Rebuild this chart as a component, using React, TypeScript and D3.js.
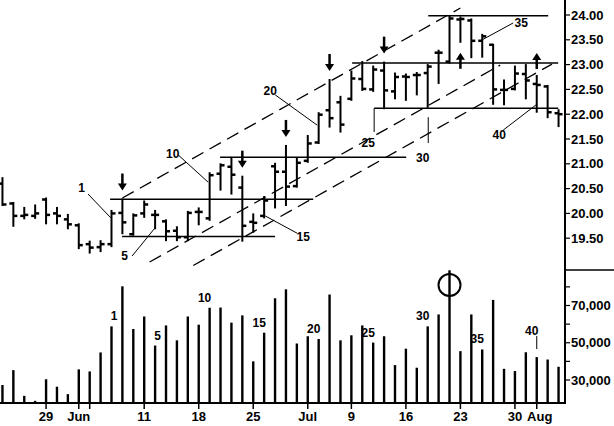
import React from 'react';
import * as d3 from 'd3';

// trading days, 22 May - 3 Aug 2001
const dates = [
  '2001-05-22', '2001-05-23', '2001-05-24', '2001-05-25', '2001-05-29', '2001-05-30', '2001-05-31', '2001-06-01',
  '2001-06-04', '2001-06-05', '2001-06-06', '2001-06-07', '2001-06-08', '2001-06-11', '2001-06-12', '2001-06-13',
  '2001-06-14', '2001-06-15', '2001-06-18', '2001-06-19', '2001-06-20', '2001-06-21', '2001-06-22', '2001-06-25',
  '2001-06-26', '2001-06-27', '2001-06-28', '2001-06-29', '2001-07-02', '2001-07-03', '2001-07-05', '2001-07-06',
  '2001-07-09', '2001-07-10', '2001-07-11', '2001-07-12', '2001-07-13', '2001-07-16', '2001-07-17', '2001-07-18',
  '2001-07-19', '2001-07-20', '2001-07-23', '2001-07-24', '2001-07-25', '2001-07-26', '2001-07-27', '2001-07-30',
  '2001-07-31', '2001-08-01', '2001-08-02', '2001-08-03',
];

const opens = [
  20.6, 20.2, 19.95, 19.95, 20.28, 20.0, 19.88, 19.76, 19.38, 19.32, 19.38, 20.01, 19.58, 20.0, 19.97, 19.84,
  19.65, 19.52, 20.03, 19.9, 20.8, 20.94, 20.52, 19.83, 19.95, 20.95, 20.84, 20.55, 21.06, 21.43, 22.08, 22.24,
  22.31, 22.71, 22.5, 22.88, 22.46, 22.76, 22.79, 22.83, 23.24, 23.06, 23.91, 23.89, 23.48, 23.4, 22.49, 22.51,
  22.81, 22.61, 22.56, 22.02,
];
const highs = [
  20.71, 20.21, 20.11, 20.16, 20.3, 20.11, 19.97, 19.78, 19.43, 19.44, 20.05, 20.28, 19.98, 20.24, 20.05, 19.86,
  19.72, 20.03, 20.1, 20.81, 20.99, 21.12, 20.74, 19.98, 20.33, 21.0, 21.36, 21.11, 21.56, 22.02, 22.69, 22.35,
  22.86, 23.05, 22.96, 23.04, 22.82, 22.8, 22.83, 22.99, 23.28, 23.97, 23.95, 23.91, 23.6, 23.4, 22.68, 22.96,
  22.99, 22.77, 22.57, 22.08,
];
const lows = [
  20.17, 19.75, 19.9, 19.91, 19.8, 19.8, 19.7, 19.3, 19.21, 19.24, 19.34, 19.6, 19.57, 19.93, 19.7, 19.46,
  19.46, 19.46, 19.78, 19.87, 20.48, 20.4, 19.45, 19.63, 19.92, 20.12, 20.17, 20.54, 21.04, 21.42, 21.75, 21.65,
  22.29, 22.49, 22.47, 22.12, 22.32, 22.29, 22.4, 22.15, 22.63, 23.04, 23.46, 23.15, 23.16, 22.21, 22.2, 22.5,
  22.32, 22.05, 21.94, 21.76,
];
const closes = [
  20.18, 19.95, 19.97, 20.0, 19.97, 19.95, 19.78, 19.36, 19.31, 19.38, 20.0, 19.82, 19.96, 20.18, 19.97, 19.64,
  19.52, 20.01, 20.03, 20.77, 20.97, 20.78, 19.75, 19.81, 20.26, 20.84, 20.54, 21.02, 21.41, 21.99, 21.92, 21.79,
  22.72, 22.51, 22.9, 22.48, 22.75, 22.75, 22.79, 22.96, 23.24, 23.93, 23.92, 23.48, 23.57, 22.5, 22.49, 22.82,
  22.68, 22.59, 22.04, 22.0,
];
const volumes = [
  27300, 35300, 21500, 18800, 30400, 26400, 22400, 35700, 34600, 44800, 58800, 80300, 57400, 64100, 48500, 59300,
  51300, 64100, 59700, 68800, 68900, 60800, 64700, 40000, 55400, 73900, 78700, 49600, 53500, 52000, 75900, 51300,
  54000, 59300, 50100, 53500, 38000, 46800, 36600, 58800, 65200, 88900, 45500, 65200, 46400, 73000, 36000, 34800,
  44900, 42300, 41000, 37100,
];

const priceTicks = [24, 23.5, 23, 22.5, 22, 21.5, 21, 20.5, 20, 19.5];
const volTicks = [30000, 40000, 50000, 60000, 70000, 80000];
const volLabels = [30000, 50000, 70000];
const tickDates = ['2001-05-29', '2001-06-01', '2001-06-04', '2001-06-11', '2001-06-18', '2001-06-25',
  '2001-07-02', '2001-07-09', '2001-07-16', '2001-07-23', '2001-07-30', '2001-08-01'];
const tickLabels = ['29', 'Jun', '', '11', '18', '25', 'Jul', '9', '16', '23', '30', 'Aug'];

// bar counts marked on the chart (bar 1 = 6 Jun)
const barNumbers = [1, 5, 10, 15, 20, 25, 30, 35, 40];
const firstBar = 10;

// arrows: index of bar
const downArrows = [11, 22, 26, 30, 35];
const upArrowsBelow = [42];
const upArrowsAbove = [49];
const circledBar = 41;

// horizontal levels: [from bar, to bar, price]
const levels = [
  [9.87, 28.5, 20.284],
  [10.97, 25.0, 19.534],
  [19.96, 37.03, 21.133],
  [32.07, 50.97, 23.032],
  [39.05, 50.05, 23.986],
  [34.09, 50.97, 22.119],
];
// channel lines: [bar, price, bar, price]
const channels = [
  [11, 20.31, 42, 24.14],
  [13.5, 19.02, 45.65, 22.99],
  [17.5, 18.95, 50.4, 23.01],
];
// bar-count labels in the price panel: [bar, price]
const noteAt = [
  [7.26, 20.44], [11.2, 19.06], [15.61, 21.12], [27.58, 19.44], [24.55, 22.39],
  [33.54, 21.34], [38.54, 21.04], [47.58, 23.76], [45.56, 21.5],
];
// leader lines: [bar, price, bar, price]
const noteLines = [
  [7.85, 20.39, 9.94, 19.91],
  [11.89, 19.14, 14.0, 19.71],
  [16.11, 21.18, 18.86, 20.63],
  [24.09, 19.95, 27.03, 19.6],
  [25.01, 22.39, 28.86, 21.78],
  [34.09, 22.12, 34.09, 21.64],
  [39.05, 21.94, 39.05, 21.42],
  [44.0, 23.5, 46.84, 23.84],
  [45.93, 21.68, 48.95, 22.19],
];

const FONT = "'Liberation Sans', Arial, sans-serif";
const AXIS_X = 565;
const PANEL_SPLIT = 270;
const BASE_Y = 403;

function DownArrow({ x, tip }: { x: number; tip: number }) {
  return (
    <g>
      <line x1={x} x2={x} y1={tip - 17} y2={tip - 6} stroke="#000" strokeWidth={2.5} />
      <path d={`M${x - 4.5},${tip - 7}L${x + 4.5},${tip - 7}L${x},${tip}Z`} fill="#000" />
    </g>
  );
}

function UpArrow({ x, tip }: { x: number; tip: number }) {
  return (
    <g>
      <line x1={x} x2={x} y1={tip + 6} y2={tip + 16} stroke="#000" strokeWidth={2.5} />
      <path d={`M${x - 4.5},${tip + 7}L${x + 4.5},${tip + 7}L${x},${tip}Z`} fill="#000" />
    </g>
  );
}

export default function App() {
  const x = d3.scaleBand<string>().domain(dates).range([-3, 564]);
  const cx = (i: number) => (x(dates[i]) ?? 0) + x.bandwidth() / 2;
  const xi = d3.scaleLinear().domain([-0.5, dates.length - 0.5]).range([-3, 564]);
  const y = d3.scaleLinear().domain([19.5, 24]).range([238.2, 15]);
  const yv = d3.scaleLinear().domain([30000, 70000]).range([380, 305.5]);
  const fmtPrice = d3.format('.2f');
  const fmtVol = d3.format(',');

  return (
    <svg width={614} height={426} style={{ position: 'absolute', left: 0, top: 0, background: '#fff' }}
      fontFamily={FONT} fontWeight="bold">
      {/* channels */}
      {channels.map(([i1, p1, i2, p2], k) => (
        <line key={'ch' + k} x1={xi(i1)} y1={y(p1)} x2={xi(i2)} y2={y(p2)}
          stroke="#000" strokeWidth={1.3} strokeDasharray="13 7" />
      ))}
      {/* horizontal levels */}
      {levels.map(([i1, i2, p], k) => (
        <line key={'lv' + k} x1={xi(i1)} x2={xi(i2)} y1={y(p)} y2={y(p)} stroke="#000" strokeWidth={1.6} />
      ))}
      {/* OHLC bars */}
      {dates.map((d, i) => {
        const bx = cx(i);
        return (
          <g key={d} stroke="#000">
            <line x1={bx} x2={bx} y1={y(highs[i]) - 1} y2={y(lows[i]) + 1} strokeWidth={2} />
            <line x1={bx - 4} x2={bx} y1={y(opens[i])} y2={y(opens[i])} strokeWidth={2.5} />
            <line x1={bx} x2={bx + 4} y1={y(closes[i])} y2={y(closes[i])} strokeWidth={2.5} />
          </g>
        );
      })}
      {/* arrows */}
      {downArrows.map((i) => <DownArrow key={'da' + i} x={cx(i)} tip={y(highs[i]) - 9} />)}
      {upArrowsBelow.map((i) => <UpArrow key={'ub' + i} x={cx(i)} tip={y(lows[i]) + 11} />)}
      {upArrowsAbove.map((i) => <UpArrow key={'ua' + i} x={cx(i)} tip={y(highs[i]) - 23} />)}
      {/* notes */}
      {noteLines.map(([i1, p1, i2, p2], k) => (
        <line key={'nl' + k} x1={xi(i1)} y1={y(p1)} x2={xi(i2)} y2={y(p2)} stroke="#000" strokeWidth={1} />
      ))}
      {noteAt.map(([i, p], k) => (
        <text key={'nt' + k} x={xi(i)} y={y(p)} textAnchor="middle" fontSize={12}>{barNumbers[k]}</text>
      ))}

      {/* volume */}
      {dates.map((d, i) => (
        <line key={'v' + d} x1={cx(i)} x2={cx(i)} y1={BASE_Y} y2={yv(volumes[i])} stroke="#000" strokeWidth={2.4} />
      ))}
      {barNumbers.map((n) => {
        const idx = n === 1 ? firstBar : firstBar + n - 1;
        const top = yv(volumes[idx]);
        const lx = cx(idx) + (n < 10 ? 2.5 : -5);
        if (n === 40) {
          return (
            <g key={'vn' + n}>
              <line x1={cx(idx)} x2={cx(idx)} y1={top - 8} y2={top - 21} stroke="#000" strokeWidth={1} />
              <text x={lx} y={top - 22} textAnchor="middle" fontSize={12}>{n}</text>
            </g>
          );
        }
        return <text key={'vn' + n} x={lx} y={top - 6} textAnchor="middle" fontSize={12}>{n}</text>;
      })}
      <circle cx={cx(circledBar)} cy={PANEL_SPLIT + 15} r={11} fill="none" stroke="#000" strokeWidth={2} />

      {/* axes */}
      <line x1={0} x2={AXIS_X} y1={BASE_Y} y2={BASE_Y} stroke="#000" strokeWidth={2} />
      <line x1={AXIS_X} x2={AXIS_X} y1={0} y2={BASE_Y + 1} stroke="#000" strokeWidth={2} />
      <line x1={AXIS_X} x2={614} y1={PANEL_SPLIT} y2={PANEL_SPLIT} stroke="#000" strokeWidth={1.5} />
      {priceTicks.map((p) => (
        <g key={'pt' + p}>
          <line x1={AXIS_X} x2={AXIS_X + 5} y1={y(p)} y2={y(p)} stroke="#000" strokeWidth={1.2} />
          <text x={AXIS_X + 6} y={y(p)} dy="0.36em" fontSize={13}>{fmtPrice(p)}</text>
        </g>
      ))}
      {volTicks.map((v) => (
        <g key={'vt' + v}>
          <line x1={AXIS_X} x2={AXIS_X + 5} y1={yv(v)} y2={yv(v)} stroke="#000" strokeWidth={1.2} />
          {volLabels.includes(v) && (
            <text x={AXIS_X + 6} y={yv(v)} dy="0.36em" fontSize={13}>{fmtVol(v)}</text>
          )}
        </g>
      ))}
      {tickDates.map((d, k) => {
        const tx = cx(dates.indexOf(d));
        return (
          <g key={'xt' + d}>
            <line x1={tx} x2={tx} y1={BASE_Y} y2={BASE_Y + 6} stroke="#000" strokeWidth={1.5} />
            <text x={tickLabels[k] === 'Aug' ? tx + 3 : tx} y={421} textAnchor="middle" fontSize={13}>{tickLabels[k]}</text>
          </g>
        );
      })}
    </svg>
  );
}
